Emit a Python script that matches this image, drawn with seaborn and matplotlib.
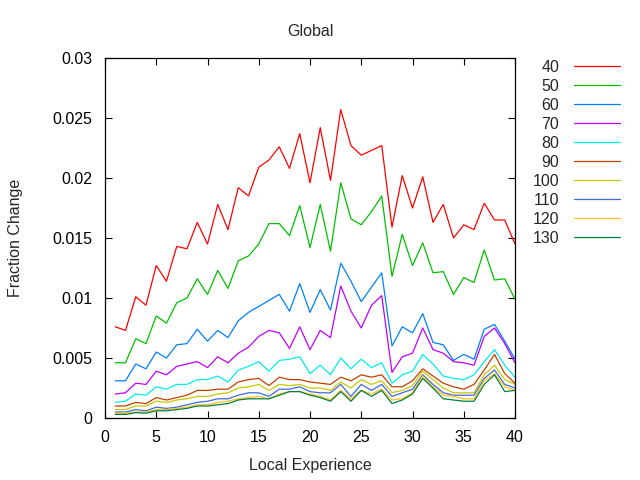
import matplotlib
matplotlib.use("Agg")
import matplotlib.pyplot as plt
import seaborn as sns
import pandas as pd

# Data
experience = list(range(1, 41))
sizes = ["40", "50", "60", "70", "80", "90", "100", "110", "120", "130"]
colors = ["#ff0000", "#00c000", "#0080ff", "#c000ff", "#00eeee",
          "#c04000", "#c8c800", "#4169e1", "#ffc020", "#008040"]

s40 = [0.0076, 0.0073, 0.0101, 0.0094, 0.0127, 0.0114, 0.0143, 0.0141, 0.0163, 0.0145,
       0.0178, 0.0157, 0.0192, 0.0185, 0.0209, 0.0215, 0.0226, 0.0208, 0.0237, 0.0196,
       0.0242, 0.0198, 0.0257, 0.0227, 0.0219, 0.0223, 0.0227, 0.0159, 0.0202, 0.0175,
       0.0201, 0.0163, 0.0178, 0.0150, 0.0161, 0.0157, 0.0179, 0.0165, 0.0165, 0.0145]
s50 = [0.0046, 0.0046, 0.0066, 0.0062, 0.0085, 0.0079, 0.0096, 0.0100, 0.0116, 0.0103,
       0.0123, 0.0108, 0.0131, 0.0135, 0.0145, 0.0162, 0.0162, 0.0152, 0.0177, 0.0142,
       0.0178, 0.0139, 0.0196, 0.0166, 0.0161, 0.0172, 0.0185, 0.0118, 0.0153, 0.0127,
       0.0146, 0.0121, 0.0122, 0.0103, 0.0117, 0.0113, 0.0140, 0.0115, 0.0116, 0.0099]
s60 = [0.0031, 0.0031, 0.0045, 0.0041, 0.0055, 0.0050, 0.0061, 0.0062, 0.0074, 0.0064,
       0.0073, 0.0067, 0.0081, 0.0088, 0.0093, 0.0098, 0.0103, 0.0089, 0.0112, 0.0088,
       0.0107, 0.0090, 0.0129, 0.0114, 0.0097, 0.0109, 0.0121, 0.0060, 0.0076, 0.0071,
       0.0087, 0.0063, 0.0061, 0.0048, 0.0053, 0.0049, 0.0074, 0.0078, 0.0064, 0.0049]
s70 = [0.0020, 0.0021, 0.0029, 0.0028, 0.0039, 0.0036, 0.0043, 0.0045, 0.0047, 0.0042,
       0.0051, 0.0046, 0.0054, 0.0059, 0.0068, 0.0073, 0.0071, 0.0058, 0.0076, 0.0057,
       0.0073, 0.0067, 0.0110, 0.0089, 0.0075, 0.0094, 0.0102, 0.0038, 0.0051, 0.0054,
       0.0075, 0.0057, 0.0054, 0.0047, 0.0046, 0.0044, 0.0068, 0.0075, 0.0062, 0.0046]
s80 = [0.0013, 0.0014, 0.0020, 0.0019, 0.0026, 0.0024, 0.0028, 0.0028, 0.0032, 0.0032,
       0.0035, 0.0030, 0.0040, 0.0043, 0.0047, 0.0039, 0.0048, 0.0049, 0.0051, 0.0037,
       0.0044, 0.0036, 0.0050, 0.0041, 0.0049, 0.0042, 0.0046, 0.0029, 0.0036, 0.0039,
       0.0053, 0.0045, 0.0035, 0.0033, 0.0032, 0.0036, 0.0047, 0.0057, 0.0044, 0.0034]
s90 = [0.0010, 0.0010, 0.0013, 0.0012, 0.0017, 0.0015, 0.0017, 0.0019, 0.0023, 0.0023,
       0.0024, 0.0024, 0.0030, 0.0032, 0.0033, 0.0027, 0.0034, 0.0032, 0.0032, 0.0030,
       0.0029, 0.0028, 0.0034, 0.0031, 0.0036, 0.0034, 0.0036, 0.0026, 0.0026, 0.0031,
       0.0041, 0.0035, 0.0029, 0.0026, 0.0024, 0.0028, 0.0040, 0.0053, 0.0037, 0.0029]
s100 = [0.0007, 0.0007, 0.0010, 0.0010, 0.0014, 0.0013, 0.0015, 0.0016, 0.0018, 0.0018,
        0.0020, 0.0021, 0.0025, 0.0026, 0.0028, 0.0023, 0.0028, 0.0027, 0.0028, 0.0025,
        0.0025, 0.0023, 0.0030, 0.0025, 0.0032, 0.0028, 0.0031, 0.0021, 0.0023, 0.0027,
        0.0039, 0.0032, 0.0025, 0.0021, 0.0021, 0.0021, 0.0036, 0.0044, 0.0032, 0.0028]
s110 = [0.0005, 0.0005, 0.0007, 0.0006, 0.0009, 0.0008, 0.0009, 0.0011, 0.0013, 0.0014,
        0.0016, 0.0016, 0.0019, 0.0021, 0.0021, 0.0018, 0.0024, 0.0024, 0.0026, 0.0022,
        0.0021, 0.0021, 0.0028, 0.0018, 0.0028, 0.0023, 0.0028, 0.0018, 0.0021, 0.0024,
        0.0036, 0.0028, 0.0021, 0.0019, 0.0019, 0.0019, 0.0033, 0.0040, 0.0028, 0.0025]
s120 = [0.0004, 0.0004, 0.0005, 0.0005, 0.0007, 0.0007, 0.0008, 0.0009, 0.0011, 0.0011,
        0.0013, 0.0014, 0.0016, 0.0017, 0.0018, 0.0016, 0.0020, 0.0022, 0.0022, 0.0020,
        0.0018, 0.0015, 0.0023, 0.0016, 0.0023, 0.0020, 0.0024, 0.0015, 0.0016, 0.0021,
        0.0035, 0.0026, 0.0019, 0.0018, 0.0016, 0.0016, 0.0031, 0.0037, 0.0026, 0.0023]
s130 = [0.0003, 0.0003, 0.00045, 0.0004, 0.0006, 0.0006, 0.0007, 0.0008, 0.0010, 0.0010,
        0.0011, 0.0012, 0.0015, 0.0016, 0.0016, 0.0016, 0.0019, 0.0022, 0.0022, 0.0019,
        0.0017, 0.0014, 0.0022, 0.0014, 0.0023, 0.0018, 0.0023, 0.0012, 0.0015, 0.0020,
        0.0033, 0.0025, 0.0016, 0.0015, 0.0014, 0.0014, 0.0028, 0.0036, 0.0022, 0.0023]

yticks = [0, 0.005, 0.01, 0.015, 0.02, 0.025, 0.03]
ytick_labels = ["0", "0.005", "0.01", "0.015", "0.02", "0.025", "0.03"]

# Long-form table
series = [s40, s50, s60, s70, s80, s90, s100, s110, s120, s130]
df = pd.concat(
    [pd.DataFrame({"exp": experience, "frac": vals, "size": name})
     for name, vals in zip(sizes, series)],
    ignore_index=True,
)

sns.set_style("ticks", {"xtick.direction": "in", "ytick.direction": "in"})
plt.rcParams["font.family"] = ["Liberation Sans", "DejaVu Sans"]
FS = 11.5

fig = plt.figure(figsize=(6.4, 4.8), dpi=100)
ax = fig.add_axes([105 / 640, 62 / 480, 410 / 640, 360 / 480])

sns.lineplot(data=df, x="exp", y="frac", hue="size", hue_order=sizes,
             palette=colors, linewidth=0.9, ax=ax)

ax.set_xlim(0, 40)
ax.set_ylim(0, 0.03)
ax.set_xticks(range(0, 41, 5))
ax.set_yticks(yticks)
ax.set_yticklabels(ytick_labels)
ax.tick_params(top=True, right=True, length=5, width=0.8, labelsize=FS,
               colors="black", pad=9)
for sp in ax.spines.values():
    sp.set_linewidth(0.9)
    sp.set_color("black")

ax.set_title("Global", fontsize=FS, pad=16)
ax.set_xlabel("Local Experience", fontsize=FS, labelpad=9)
ax.set_ylabel("Fraction Change", fontsize=FS, labelpad=21)

handles, labels = ax.get_legend_handles_labels()
ax.legend(handles, labels, loc="upper right", bbox_to_anchor=(620 / 640, 1 - 60 / 480),
          bbox_transform=fig.transFigure, frameon=False, markerfirst=False,
          handlelength=2.85, handletextpad=0.95, labelspacing=0.25, borderaxespad=0,
          borderpad=0, fontsize=FS)

fig.savefig("out.png", dpi=100)
